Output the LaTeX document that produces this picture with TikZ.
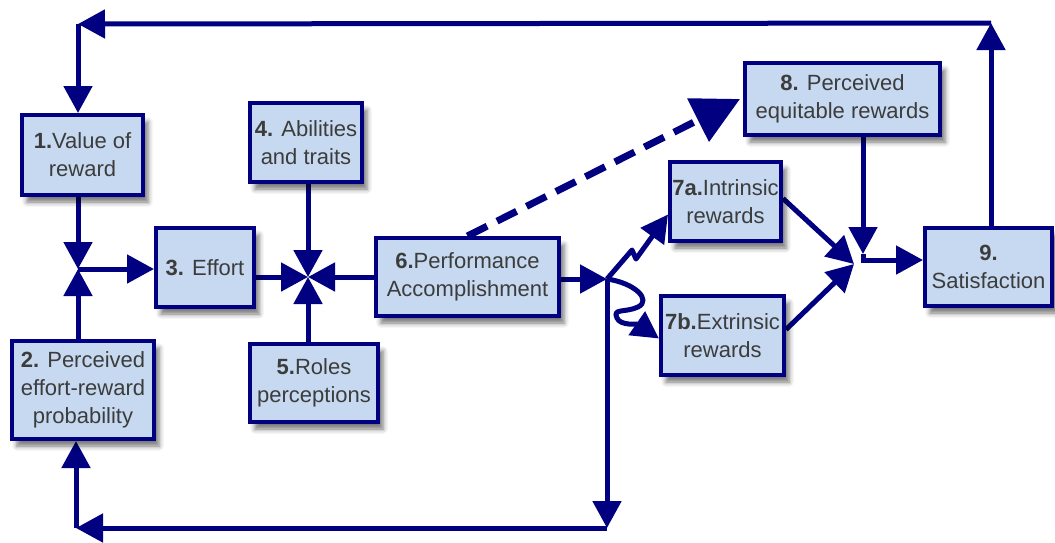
\documentclass[tikz,border=0pt]{standalone}
\usepackage{fontspec}
\setmainfont{Liberation Sans}
\usetikzlibrary{arrows.meta,shadows.blur,backgrounds}
\definecolor{navy}{HTML}{000080}
\definecolor{boxfill}{HTML}{C6D9F0}
\definecolor{txt}{HTML}{3C3C3C}
\tikzset{
  box/.style={draw=navy, line width=4pt, fill=boxfill, text=txt, align=center,
    inner sep=0pt, font=\fontsize{22}{28}\selectfont,
    blur shadow={shadow xshift=5pt, shadow yshift=-7pt, shadow blur radius=5pt, shadow opacity=55}},
  link/.style={draw=navy, line width=5pt},
  arr/.style={link, -{Triangle[length=27pt,width=28pt]}},
  dasharr/.style={draw=navy, line width=7pt, dash pattern=on 22pt off 11pt,
    -{Triangle[length=47pt,width=47pt]}},
}
\begin{document}
\begin{tikzpicture}[x=1pt,y=-1pt]
\useasboundingbox (0,0) rectangle (1055,542);

% boxes
\node[box, minimum width=121pt, minimum height=80pt] (n1) at (82.5,155) {\textbf{1.}Value of\\reward};
\node[box, minimum width=142pt, minimum height=98pt] (n2) at (83,390) {\textbf{2.} Perceived\\effort-reward\\probability};
\node[box, minimum width=98pt, minimum height=79pt] (n3) at (205,267.5) {\textbf{3.} Effort};
\node[box, minimum width=112pt, minimum height=79pt] (n4) at (306,142.5) {\textbf{4.} Abilities\\and traits};
\node[box, minimum width=128pt, minimum height=78pt] (n5) at (314,383) {\textbf{5.}Roles\\perceptions};
\node[box, minimum width=183pt, minimum height=78pt] (n6) at (467.5,277) {\textbf{6.}Performance\\Accomplishment};
\node[box, minimum width=111pt, minimum height=79pt] (n7a) at (725.5,201.5) {\textbf{7a.}Intrinsic\\rewards};
\node[box, minimum width=123pt, minimum height=79pt] (n7b) at (722.5,335.5) {\textbf{7b.}Extrinsic\\rewards};
\node[box, minimum width=195pt, minimum height=72pt] (n8) at (842.5,99) {\textbf{8.} Perceived\\equitable rewards};
\node[box, minimum width=127pt, minimum height=78pt] (n9) at (988.5,267) {\textbf{9.}\\Satisfaction};

% junction points
\coordinate (tr) at (991,23);
\coordinate (tl) at (78,24);
\coordinate (j1) at (78,269);
\coordinate (j2) at (308,277);
\coordinate (j4) at (607,279);
\coordinate (br) at (607,528);
\coordinate (bl) at (76,528);
\coordinate (j3) at (854,264);
\coordinate (j3t) at (863,254);
\coordinate (j3b) at (863,260);

\begin{pgfonlayer}{background}
% feedback from satisfaction to value of reward
\draw[arr] (tr |- n9.north) -- (tr);
\draw[arr] (tr) -- (tl);
\draw[arr] (tl) -- (tl |- n1.north);

% inputs to effort
\draw[arr] (j1 |- n1.south) -- (j1);
\draw[arr] (j1 |- n2.north) -- (j1);
\draw[arr] (j1) -- (j1 -| n3.west);

% inputs to the central junction
\draw[arr] (j2 -| n3.east) -- (j2);
\draw[arr] (j2 |- n4.south) -- (j2);
\draw[arr] (j2 |- n5.north) -- (j2);
\draw[arr] (j2 -| n6.west) -- (j2);

% performance outputs
\draw[arr] (j4 -| n6.east) -- (j4);
\draw[arr] (j4) -- (br);
\draw[arr] (br) -- (bl);
\draw[arr] (bl) -- (bl |- n2.south);
\draw[arr, line join=round] (j4) -- (632,250) -- (636,259) -- ([yshift=-13pt]n7a.west);
\draw[arr, line join=round] (j4) .. controls (635,283) and (652,300) .. (638,307)
  .. controls (625,313) and (612,308) .. (617,318)
  .. controls (620,326) and (638,324) .. ([yshift=-3pt]n7b.west);
\draw[dasharr] (n6.north) -- ([xshift=-3pt]n8.west);

% rewards to satisfaction
\draw[arr] ([yshift=3pt]n7a.east) -- (j3);
\draw[arr] ([yshift=6pt]n7b.east) -- (j3);
\draw[arr] (j3t |- n8.south) -- (j3t);
\draw[arr] (j3t) -- (j3b) -- (j3b -| n9.west);
\end{pgfonlayer}
\end{tikzpicture}
\end{document}
